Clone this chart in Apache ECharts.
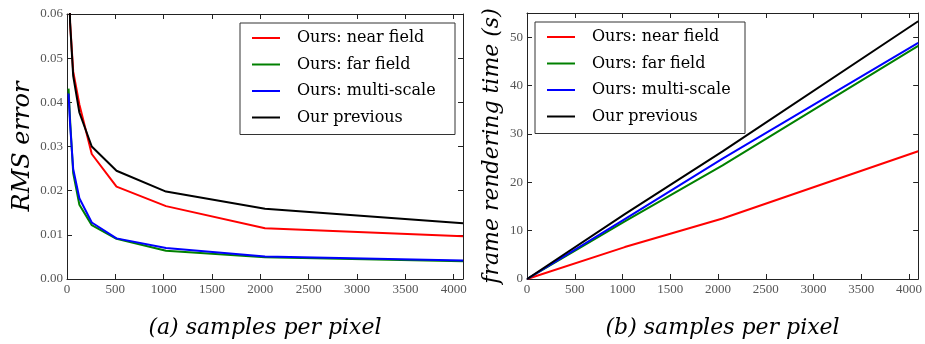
<!DOCTYPE html>
<html>
<head>
<meta charset="utf-8">
<script src="https://cdn.jsdelivr.net/npm/echarts@6/dist/echarts.min.js"></script>
<style>
  html, body { margin: 0; padding: 0; background: #fff; }
  #chart { width: 925px; height: 344px; }
</style>
</head>
<body>
<div id="chart"></div>
<script>
// samples per pixel (x values)
const errSamples = [16, 32, 64, 128, 256, 512, 1024, 2048, 4096]
const timeSamples = [1, 1024, 2048, 4096]

// (a) RMS error
const errNear = [0.075, 0.058, 0.047, 0.0395, 0.0283, 0.0209, 0.0165, 0.0115, 0.0097]
const errFar = [0.0431, 0.036, 0.0240, 0.0168, 0.0122, 0.0091, 0.0064, 0.0049, 0.0040]
const errMulti = [0.0420, 0.035, 0.0249, 0.0183, 0.0128, 0.0092, 0.0070, 0.0051, 0.0042]
const errPrev = [0.075, 0.058, 0.046, 0.0377, 0.0300, 0.0245, 0.0198, 0.0159, 0.0126]

// (b) frame rendering time (s)
const timeNear = [0, 6.6, 12.5, 26.4]
const timeFar = [0, 11.9, 23.5, 48.2]
const timeMulti = [0, 12.4, 24.9, 48.8]
const timePrev = [0, 13.4, 26.4, 53.3]

const names = ['Ours: near field', 'Ours: far field', 'Ours: multi-scale', 'Our previous']
const colors = ['#ff0000', '#008000', '#0000ff', '#000000']

const serif = 'Liberation Serif'
const tickColor = '#555'

function pairs(xs, ys) {
  return xs.map((x, i) => [x, ys[i]])
}

function xAxes(gridIndex, name) {
  const base = {
    gridIndex: gridIndex,
    type: 'value',
    min: 0,
    max: 4096,
    interval: 500,
    splitLine: { show: false },
    axisLine: { show: true, onZero: false, lineStyle: { color: '#222', width: 1 } },
    axisTick: { show: true, inside: true, length: 5, lineStyle: { color: '#222' } }
  }
  return [
    Object.assign({}, base, {
      position: 'bottom',
      name: name,
      nameLocation: 'middle',
      nameGap: 38,
      nameTextStyle: { fontFamily: 'DejaVu Serif', fontStyle: 'italic', fontSize: 22, color: '#000' },
      axisLabel: { color: tickColor, fontFamily: serif, fontSize: 13, margin: 4, showMaxLabel: false, formatter: v => String(v) }
    }),
    Object.assign({}, base, { position: 'top', axisLabel: { show: false } })
  ]
}

function yAxes(gridIndex, max, interval, name, gap, size, showMax, fmt) {
  const base = {
    gridIndex: gridIndex,
    type: 'value',
    min: 0,
    max: max,
    interval: interval,
    splitLine: { show: false },
    axisLine: { show: true, onZero: false, lineStyle: { color: '#222', width: 1 } },
    axisTick: { show: true, inside: true, length: 5, lineStyle: { color: '#222' } }
  }
  return [
    Object.assign({}, base, {
      position: 'left',
      name: name,
      nameLocation: 'middle',
      nameGap: gap,
      nameTextStyle: { fontFamily: 'DejaVu Serif', fontStyle: 'italic', fontSize: size, color: '#000' },
      axisLabel: { color: tickColor, fontFamily: serif, fontSize: 13, margin: 4, showMaxLabel: showMax, formatter: fmt }
    }),
    Object.assign({}, base, { position: 'right', axisLabel: { show: false } })
  ]
}

function legend(left, top, width) {
  return {
    data: names,
    orient: 'vertical',
    left: left,
    top: top,
    icon: 'rect',
    itemWidth: 28,
    itemHeight: 2,
    itemGap: 10.5,
    padding: [7, 8, 9, 12],
    borderColor: '#333',
    borderWidth: 1,
    backgroundColor: '#fff',
    textStyle: {
      fontFamily: 'DejaVu Serif', fontSize: 16, color: '#000',
      width: width, padding: [0, 0, 0, 12], lineHeight: 16
    }
  }
}

const series = []
const errData = [errNear, errFar, errMulti, errPrev]
const timeData = [timeNear, timeFar, timeMulti, timePrev]
names.forEach((n, i) => {
  series.push({
    name: n, type: 'line', xAxisIndex: 0, yAxisIndex: 0,
    symbol: 'none', clip: true,
    lineStyle: { color: colors[i], width: 2 }, itemStyle: { color: colors[i] },
    data: pairs(errSamples, errData[i]), z: i === 3 ? 3 : 2
  })
})
names.forEach((n, i) => {
  series.push({
    name: n, type: 'line', xAxisIndex: 2, yAxisIndex: 2,
    symbol: 'none', clip: true,
    lineStyle: { color: colors[i], width: 2 }, itemStyle: { color: colors[i] },
    data: pairs(timeSamples, timeData[i])
  })
})

const chart = echarts.init(document.getElementById('chart'), null, { renderer: 'canvas' })
chart.setOption({
  animation: false,
  backgroundColor: '#fff',
  grid: [
    { left: 67, top: 14, width: 396, height: 273 },
    { left: 527, top: 13, width: 397, height: 275 }
  ],
  legend: [legend(240, 23, 150), legend(535, 22, 145)],
  xAxis: xAxes(0, '(a) samples per pixel').concat(xAxes(1, '(b) samples per pixel')),
  yAxis: yAxes(0, 0.06, 0.01, 'RMS error', 32, 24, true, v => v.toFixed(2))
    .concat(yAxes(1, 55, 10, 'frame rendering time (s)', 24, 22, false, v => String(v))),
  series: series
})
</script>
</body>
</html>
